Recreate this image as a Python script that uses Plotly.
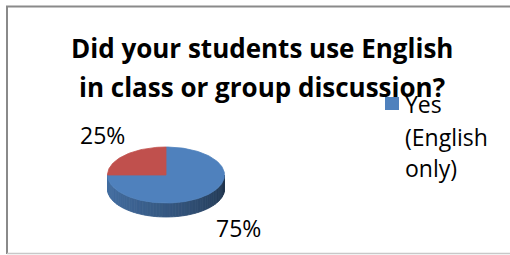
import math
import plotly.graph_objects as go

# ---- data ----
categories = ["Yes (English only)", "No"]
values = [75, 25]
slice_colors = ["#4f81bd", "#c0504d"]
title_lines = ["Did your students use English", "in class or group discussion?"]
legend_lines = ["Yes", "(English", "only)"]

# ---- geometry / style ----
W, H = 510, 255
CX, CY, RX, RY, DEPTH = 166, 175, 58.5, 28, 14
FONT = "Open Sans"

def pt(theta_deg, dy=0.0):
    t = math.radians(theta_deg)
    return CX + RX * math.cos(t), CY - RY * math.sin(t) + dy

fig = go.Figure()

total = sum(values)
bounds = []
start = 90.0
for v in values:
    end = start - 360.0 * v / total
    bounds.append((start, end))
    start = end

def slice_for(theta):
    for i, (s, e) in enumerate(bounds):
        th = theta
        while th > s:
            th -= 360
        while th < e:
            th += 360
        if e <= th <= s:
            return i
    return 0

def shade(hex_color, f):
    h = hex_color.lstrip("#")
    r, g, b = (int(h[i:i + 2], 16) for i in (0, 2, 4))
    return "rgb(%d,%d,%d)" % (r * f, g * f, b * f)

# side wall of the visible front half, shaded left (light) to right (dark)
N = 60
for k in range(N):
    a0 = -180 + 180.0 * k / N
    a1 = -180 + 180.0 * (k + 1) / N
    idx = slice_for((a0 + a1) / 2)
    x0, y0 = pt(a0)
    x1, y1 = pt(a1)
    t = k / (N - 1)
    f = 0.86 - 0.46 * (t ** 1.4)
    col = shade(slice_colors[idx], f)
    fig.add_trace(go.Scatter(
        x=[x0, x1, x1, x0, x0], y=[y0, y1, y1 + DEPTH, y0 + DEPTH, y0],
        fill="toself", fillcolor=col, mode="lines",
        line=dict(color=col, width=0.8), hoverinfo="skip", showlegend=False))

# top faces
for i, (s, e) in enumerate(bounds):
    steps = max(4, int(abs(s - e) / 2))
    xs, ys = [CX], [CY]
    for j in range(steps + 1):
        x, y = pt(s + (e - s) * j / steps)
        xs.append(x)
        ys.append(y)
    xs.append(CX)
    ys.append(CY)
    fig.add_trace(go.Scatter(
        x=xs, y=ys, fill="toself", fillcolor=slice_colors[i], mode="lines",
        line=dict(color=slice_colors[i], width=0.8), name=categories[i],
        hoverinfo="name", showlegend=False))

annotations = []
for txt, y in zip(title_lines, [48, 87]):
    annotations.append(dict(x=262, y=y, text="<b>%s</b>" % txt, showarrow=False,
                            xanchor="center", yanchor="middle",
                            font=dict(family=FONT, size=26, color="#000000")))
pct = ["%d%%" % round(100 * v / total) for v in values]
annotations.append(dict(x=238, y=228, text=pct[0], showarrow=False,
                        font=dict(family=FONT, size=23, color="#000000")))
annotations.append(dict(x=102, y=135, text=pct[1], showarrow=False,
                        font=dict(family=FONT, size=23, color="#000000")))
for txt, y in zip(legend_lines, [104, 137, 168]):
    annotations.append(dict(x=403, y=y, text=txt, showarrow=False,
                            xanchor="left", yanchor="middle",
                            font=dict(family=FONT, size=23, color="#000000")))

shapes = [
    dict(type="rect", x0=385, x1=399, y0=97, y1=110, fillcolor=slice_colors[0],
         line=dict(width=0), layer="below"),
    dict(type="line", x0=6, x1=W + 5, y0=6.5, y1=6.5, line=dict(color="#8a8a8a", width=2)),
    dict(type="line", x0=7, x1=7, y0=6, y1=254, line=dict(color="#8a8a8a", width=2)),
    dict(type="line", x0=7, x1=W + 5, y0=253.5, y1=253.5, line=dict(color="#c8c8c8", width=1.5)),
]

fig.update_layout(
    width=W, height=H, autosize=False,
    margin=dict(l=0, r=0, t=0, b=0),
    paper_bgcolor="white", plot_bgcolor="white",
    xaxis=dict(range=[0, W], visible=False, fixedrange=True),
    yaxis=dict(range=[H, 0], visible=False, fixedrange=True),
    annotations=annotations, shapes=shapes, showlegend=False,
)

fig.write_html("out.html", config={"displayModeBar": False},
               post_script="document.body.style.margin='0';document.body.style.overflow='hidden';")
